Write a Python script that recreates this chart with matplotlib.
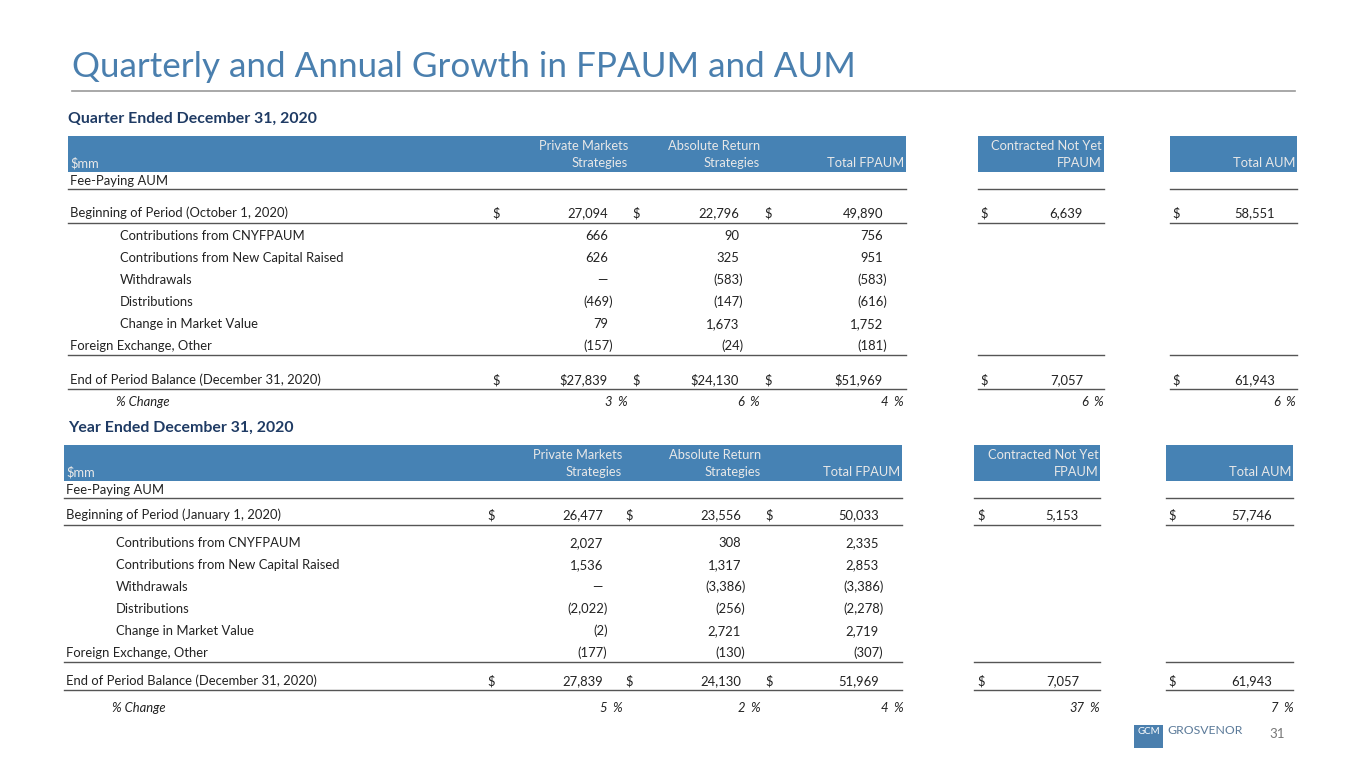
import matplotlib.pyplot as plt
from matplotlib.patches import Rectangle

plt.rcParams['font.family'] = ['Lato', 'DejaVu Sans']

title = "Quarterly and Annual Growth in FPAUM and AUM"
col_heads = [("Private Markets", "Strategies"), ("Absolute Return", "Strategies"),
             ("", "Total FPAUM"), ("Contracted Not Yet", "FPAUM"), ("", "Total AUM")]
flow_labels = ["Contributions from CNYFPAUM", "Contributions from New Capital Raised",
               "Withdrawals", "Distributions", "Change in Market Value"]

# quarter ended Dec 31, 2020
q_begin = [27094, 22796, 49890, 6639, 58551]
q_flows = [[666, 90, 756], [626, 325, 951], [None, -583, -583],
           [-469, -147, -616], [79, 1673, 1752]]
q_fx = [-157, -24, -181]
q_end = [27839, 24130, 51969, 7057, 61943]
q_pct = [3, 6, 4, 6, 6]

# year ended Dec 31, 2020
y_begin = [26477, 23556, 50033, 5153, 57746]
y_flows = [[2027, 308, 2335], [1536, 1317, 2853], [None, -3386, -3386],
           [-2022, -256, -2278], [-2, 2721, 2719]]
y_fx = [-177, -130, -307]
y_end = [27839, 24130, 51969, 7057, 61943]
y_pct = [5, 2, 4, 37, 7]

BLUE = '#4682b4'
NAVY = '#1f3b64'
TXT = '#222222'
LINE = '#555555'
FS = 9.4
HFS = 9.3


def fmt(v):
    if v is None:
        return '\u2014'
    if v < 0:
        return f'({-v:,})'
    return f'{v:,}'


fig = plt.figure(figsize=(13.65, 7.68), dpi=100)
ax = fig.add_axes([0, 0, 1, 1])
ax.set_xlim(0, 1365)
ax.set_ylim(768, 0)
ax.axis('off')

ax.text(72, 67, title, fontsize=25.2, color='#4a7fae', va='center', ha='left')
ax.plot([72, 1295], [91, 91], color='#999999', lw=1.2)


def draw_table(top, dx, heading, period, begin, flows, fx, end, pct,
               rights, dollars, pct_rights, head_rights, rows, dollar_in_end):
    segs = [(68 + dx, 906 + dx), (978 + dx, 1104 + dx), (1170 + dx, 1297 + dx)]
    left = 70 + dx
    indent = 120 + dx
    ax.text(68, top - 17, heading, fontsize=11.4, fontweight='bold', color=NAVY, va='center')
    for a, b in segs:
        ax.add_patch(Rectangle((a, top), b - a, 36, color=BLUE, lw=0))
    ax.text(left, top + 27, '$mm', fontsize=HFS, color='#e8e8e8', va='center')
    for (l1, l2), hx in zip(col_heads, head_rights):
        ax.text(hx, top + 10, l1, fontsize=HFS, color='#e8e8e8', va='center', ha='right')
        ax.text(hx, top + 27, l2, fontsize=HFS, color='#e8e8e8', va='center', ha='right')

    y_fee, y_beg, y_flow, y_fx, y_end, y_pct = rows
    ax.text(left, y_fee, 'Fee-Paying AUM', fontsize=FS, color=TXT, va='center')

    def hlines(y):
        for a, b in segs:
            ax.plot([a, b], [y, y], color=LINE, lw=1)

    hlines(y_fee + 8)

    def dollar_row(y, label, vals, inner_dollar=False):
        ax.text(left, y, label, fontsize=FS, color=TXT, va='center')
        for i, (v, rx, dx_) in enumerate(zip(vals, rights, dollars)):
            ax.text(dx_, y, '$', fontsize=FS, color=TXT, va='center')
            s = fmt(v)
            if inner_dollar and i < 3:
                s = '$' + s
            ax.text(rx, y, s, fontsize=FS, color=TXT, va='center', ha='right')

    dollar_row(y_beg, f'Beginning of Period ({period[0]})', begin)
    hlines(y_beg + 10)

    for i, (lab, vals) in enumerate(zip(flow_labels, flows)):
        y = y_flow[i]
        ax.text(indent, y, lab, fontsize=FS, color=TXT, va='center')
        for v, rx in zip(vals, rights[:3]):
            off = 4.5 if (v is not None and v < 0) else 0
            ax.text(rx + off, y, fmt(v), fontsize=FS, color=TXT, va='center', ha='right')

    ax.text(left, y_fx, 'Foreign Exchange, Other', fontsize=FS, color=TXT, va='center')
    for v, rx in zip(fx, rights[:3]):
        off = 4.5 if v < 0 else 0
        ax.text(rx + off, y_fx, fmt(v), fontsize=FS, color=TXT, va='center', ha='right')
    hlines(y_fx + 9)

    dollar_row(y_end, f'End of Period Balance ({period[1]})', end, dollar_in_end)
    hlines(y_end + 9)

    ax.text(indent - 4, y_pct, '% Change', fontsize=FS, color=TXT, va='center', style='italic')
    for v, px in zip(pct, pct_rights):
        ax.text(px - 15, y_pct, f'{v}', fontsize=FS, color=TXT, va='center', ha='right', style='italic')
        ax.text(px, y_pct, '%', fontsize=FS, color=TXT, va='center', ha='right', style='italic')


draw_table(136, 0, 'Quarter Ended December 31, 2020',
           ('October 1, 2020', 'December 31, 2020'),
           q_begin, q_flows, q_fx, q_end, q_pct,
           rights=[608, 739, 883, 1083, 1275], dollars=[492, 632, 764, 980, 1172],
           pct_rights=[627, 759, 903, 1103, 1295],
           head_rights=[628, 760, 904, 1102, 1295],
           rows=(181, 213, [236, 258, 280, 302, 324], 346, 380, 402),
           dollar_in_end=True)

draw_table(445, -4, 'Year Ended December 31, 2020',
           ('January 1, 2020', 'December 31, 2020'),
           y_begin, y_flows, y_fx, y_end, y_pct,
           rights=[603, 741, 879, 1079, 1272], dollars=[487, 625, 765, 977, 1168],
           pct_rights=[622, 760, 903, 1099, 1293],
           head_rights=[622, 761, 900, 1099, 1291],
           rows=(490, 515, [543, 565, 587, 609, 631], 653, 681, 708),
           dollar_in_end=False)

# logo and page number
ax.add_patch(Rectangle((1134, 725), 29, 23, color='#4a7fae', lw=0))
ax.text(1148.5, 732, 'GCM', fontsize=7, color='white', ha='center', va='center')
ax.text(1167, 731, 'GROSVENOR', fontsize=8.8, color='#5b7a99', va='center')
ax.text(1269, 734, '31', fontsize=9.5, color='#777777', va='center')

fig.savefig('out.png', dpi=100)
